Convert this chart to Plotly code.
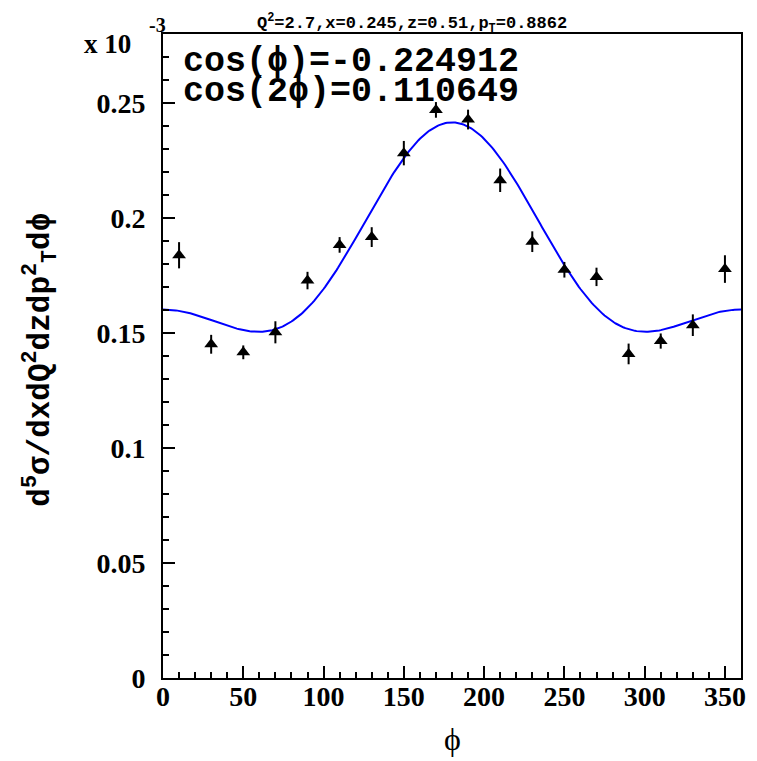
import numpy as np
import plotly.graph_objects as go

# data (values in units of 1e-3)
phi = [10, 30, 50, 70, 90, 110, 130, 150, 170, 190, 210, 230, 250, 270, 290, 310, 330, 350]
xsec = [0.1838, 0.1451, 0.1416, 0.1503, 0.1728, 0.1883, 0.1917, 0.2282, 0.2470, 0.2428,
        0.2164, 0.1897, 0.1775, 0.1744, 0.1409, 0.1465, 0.1534, 0.1778]
err = [0.0057, 0.0041, 0.0030, 0.0048, 0.0038, 0.0034, 0.0043, 0.0053, 0.0034, 0.0043,
       0.0051, 0.0045, 0.0034, 0.0040, 0.0045, 0.0033, 0.0047, 0.0060]

# fit parameters
fit_A = 0.18087
fit_c1 = -0.224912
fit_c2 = 0.110649

x_ticks = [0, 50, 100, 150, 200, 250, 300, 350]
y_ticks = [0, 0.05, 0.1, 0.15, 0.2, 0.25]
y_ticklabels = ["0", "0.05", "0.1", "0.15", "0.2", "0.25"]

phi_fit = np.linspace(0, 360, 361)
rad = np.deg2rad(phi_fit)
y_fit = fit_A * (1 + fit_c1 * np.cos(rad) + fit_c2 * np.cos(2 * rad))

fig = go.Figure()
fig.add_trace(go.Scatter(x=phi_fit, y=y_fit, mode="lines",
                         line=dict(color="#0000ff", width=2), showlegend=False,
                         hoverinfo="skip"))
fig.add_trace(go.Scatter(x=phi, y=xsec, mode="markers",
                         marker=dict(symbol="triangle-up", size=12, color="black"),
                         error_y=dict(type="data", array=err, color="black",
                                      thickness=2, width=0),
                         showlegend=False))

serif = "Liberation Serif, Times New Roman, serif"
mono = "Liberation Mono, DejaVu Sans Mono, monospace"
tickfont = dict(family=serif, size=28, color="black", weight="bold")

fig.update_layout(
    width=757, height=761,
    margin=dict(l=163, r=11, t=34, b=83),
    paper_bgcolor="white", plot_bgcolor="white",
    xaxis=dict(range=[0, 360], tickmode="array", tickvals=x_ticks,
               ticks="inside", ticklen=12, tickwidth=1.5, tickcolor="black",
               minor=dict(ticks="inside", ticklen=6, dtick=10, tickwidth=1.5, tickcolor="black"),
               showline=True, linecolor="black", linewidth=2, mirror=True,
               showgrid=False, zeroline=False, tickfont=tickfont, ticklabelstandoff=-8),
    yaxis=dict(range=[0, 0.28], tickmode="array", tickvals=y_ticks, ticktext=y_ticklabels,
               ticks="inside", ticklen=12, tickwidth=1.5, tickcolor="black",
               minor=dict(ticks="inside", ticklen=6, dtick=0.01, tickwidth=1.5, tickcolor="black"),
               showline=True, linecolor="black", linewidth=2, mirror=True,
               showgrid=False, zeroline=False, tickfont=tickfont, ticklabelstandoff=10),
    annotations=[
        dict(text="d<sup>5</sup>σ/dxdQ<sup>2</sup>dzdp<sup>2</sup><sub>T</sub>dϕ",
             xref="paper", yref="paper", x=-0.212, y=0.495, textangle=-90,
             xanchor="center", yanchor="middle", showarrow=False,
             font=dict(family=mono, size=31, color="black", weight="bold")),
        dict(text="ϕ", xref="paper", yref="paper", x=0.5, y=-0.094,
             xanchor="center", yanchor="middle", showarrow=False,
             font=dict(family=serif, size=32, color="black")),
        dict(text="cos(ϕ)=-0.224912", xref="paper", yref="paper", x=0.031, y=0.9565,
             xanchor="left", yanchor="middle", showarrow=False,
             font=dict(family=mono, size=35, color="black", weight="bold")),
        dict(text="cos(2ϕ)=0.110649", xref="paper", yref="paper", x=0.031, y=0.910,
             xanchor="left", yanchor="middle", showarrow=False,
             font=dict(family=mono, size=35, color="black", weight="bold")),
        dict(text="Q<sup>2</sup>=2.7,x=0.245,z=0.51,p<sub>T</sub>=0.8862", xref="paper", yref="paper",
             x=0.4305, y=1.017, xanchor="center", yanchor="middle", showarrow=False,
             font=dict(family=mono, size=17, color="black", weight="bold")),
        dict(text="x 10", xref="paper", yref="paper", x=-0.0515, y=0.9845,
             xanchor="right", yanchor="middle", showarrow=False,
             font=dict(family=serif, size=27, color="black", weight="bold")),
        dict(text="-3", xref="paper", yref="paper", x=-0.0103, y=1.014,
             xanchor="center", yanchor="middle", showarrow=False,
             font=dict(family=serif, size=20, color="black", weight="bold")),
    ],
)

fig.write_html("out.html")
